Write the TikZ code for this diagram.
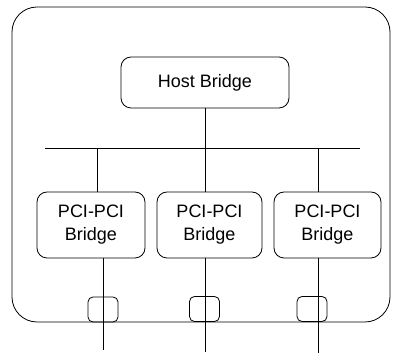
\documentclass[tikz,border=0pt]{standalone}
\usepackage{fontspec}
\setmainfont{Liberation Sans}
\usetikzlibrary{positioning}

\begin{document}
\begin{tikzpicture}[
  x=1pt, y=-1pt,
  line width=0.8pt,
  box/.style={rectangle, rounded corners=10pt, draw, thick, align=center,
              inner sep=0pt, font=\fontsize{18}{23}\selectfont},
  port/.style={rectangle, rounded corners=5pt, draw,
               minimum width=30pt, minimum height=25pt}
]
\useasboundingbox (0,0) rectangle (400,355);
% outer frame
\node[rectangle, rounded corners=25pt, draw, minimum width=378pt,
      minimum height=315pt] (frame) at (201,164.5) {};

\node[box, minimum width=168pt, minimum height=51pt] (host) at (205,82.5) {Host Bridge};

\node[box, minimum width=108pt, minimum height=66pt] (b1) at (91,225) {PCI-PCI\\Bridge};
\node[box, minimum width=105pt, minimum height=66pt] (b2) at (209.5,225) {PCI-PCI\\Bridge};
\node[box, minimum width=107pt, minimum height=66pt] (b3) at (327.5,225) {PCI-PCI\\Bridge};

\node[port] (p1) at (103,309.5) {};
\node[port] (p2) at (204.5,309) {};
\node[port] (p3) at (312,309) {};

% bus
\coordinate (busL) at (45,149);
\coordinate (busR) at (360,149);
\draw[line width=1pt] (busL) -- (busR);

\coordinate (t1) at (97,149);
\coordinate (t3) at (318,149);
\draw (host.south) -- (host.south |- b2.north);
\draw (t1) -- (t1 |- b1.north);
\draw (t3) -- (t3 |- b3.north);

% lines out of the frame
\coordinate (e1) at (103,350);
\coordinate (e2) at (205,352);
\coordinate (e3) at (318,353);
\draw (e1 |- b1.south) -- (e1);
\draw (e2 |- b2.south) -- (e2);
\draw (e3 |- b3.south) -- (e3);
\end{tikzpicture}
\end{document}
